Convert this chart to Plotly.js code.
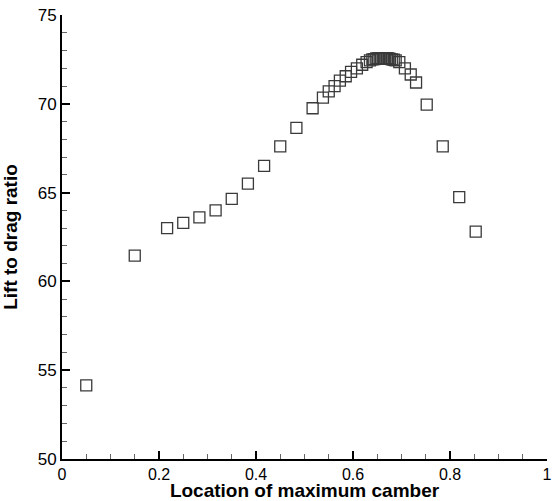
<!DOCTYPE html>
<html>
<head>
<meta charset="utf-8">
<script src="https://cdn.plot.ly/plotly-3.0.1.min.js"></script>
<style>html,body{margin:0;padding:0;background:#fff;} .c{width:552px;height:501px;}</style>
</head>
<body>
<div id="g"></div>
<script>
// Location of maximum camber
const camberX = [
  0.05, 0.15, 0.2167, 0.25, 0.2833, 0.3167, 0.35, 0.3833, 0.4167, 0.45, 0.4833, 0.5167,
  0.538, 0.55, 0.562, 0.573, 0.585, 0.596, 0.608, 0.619, 0.628, 0.635, 0.640, 0.644,
  0.648, 0.652, 0.655, 0.658, 0.661, 0.664, 0.667, 0.670, 0.673, 0.676, 0.680, 0.684,
  0.688, 0.6955, 0.707, 0.719, 0.730, 0.752, 0.785, 0.819, 0.853
];
// Lift to drag ratio
const liftDrag = [
  54.15, 61.45, 63.0, 63.3, 63.6, 64.0, 64.65, 65.5, 66.5, 67.6, 68.65, 69.75,
  70.35, 70.7, 71.0, 71.3, 71.55, 71.8, 72.0, 72.2, 72.35, 72.45, 72.5, 72.52,
  72.55, 72.56, 72.57, 72.57, 72.57, 72.57, 72.57, 72.56, 72.55, 72.53, 72.5, 72.48,
  72.45, 72.35, 72.0, 71.65, 71.2, 69.95, 67.6, 64.75, 62.8
];

const font = "'Liberation Sans', Arial, sans-serif";
const layout = {
  width: 552, height: 501,
  margin: {l: 62, r: 5, t: 15, b: 42},
  paper_bgcolor: '#fff', plot_bgcolor: '#fff', showlegend: false,
  font: {family: font, color: '#000'},
  xaxis: {range: [0, 1], dtick: 0.2, tick0: 0, tickformat: '~g', showgrid: false, zeroline: false,
    showline: true, linewidth: 2, linecolor: '#000', ticks: 'inside', ticklen: 8, tickwidth: 2, tickcolor: '#000',
    minor: {dtick: 0.05, ticks: 'inside', ticklen: 5, tickwidth: 1, tickcolor: '#666'},
    tickfont: {size: 16, family: font, color: '#000'},
    title: {text: 'Location of maximum camber', font: {size: 19, family: font, color: '#000', weight: 'bold'}},
    automargin: false},
  yaxis: {range: [50, 75], dtick: 5, tick0: 50, showgrid: false, zeroline: false,
    showline: true, linewidth: 2, linecolor: '#000', ticks: 'inside', ticklen: 8, tickwidth: 2, tickcolor: '#000',
    minor: {dtick: 1, ticks: 'inside', ticklen: 5, tickwidth: 1, tickcolor: '#666'},
    tickfont: {size: 17, family: font, color: '#000'},
    title: {text: 'Lift to drag ratio', font: {size: 19, family: font, color: '#000', weight: 'bold'}},
    automargin: false}
};
const g = document.getElementById('g');
const d = document.createElement('div'); d.className = 'c'; d.id = 'chart'; g.appendChild(d);
Plotly.newPlot(d, [{
  x: camberX, y: liftDrag, type: 'scatter', mode: 'markers',
  marker: {symbol: 'square-open', size: 11, color: '#3a3a3a', line: {width: 1.3}}
}], layout, {displayModeBar: false});
</script>
</body>
</html>
